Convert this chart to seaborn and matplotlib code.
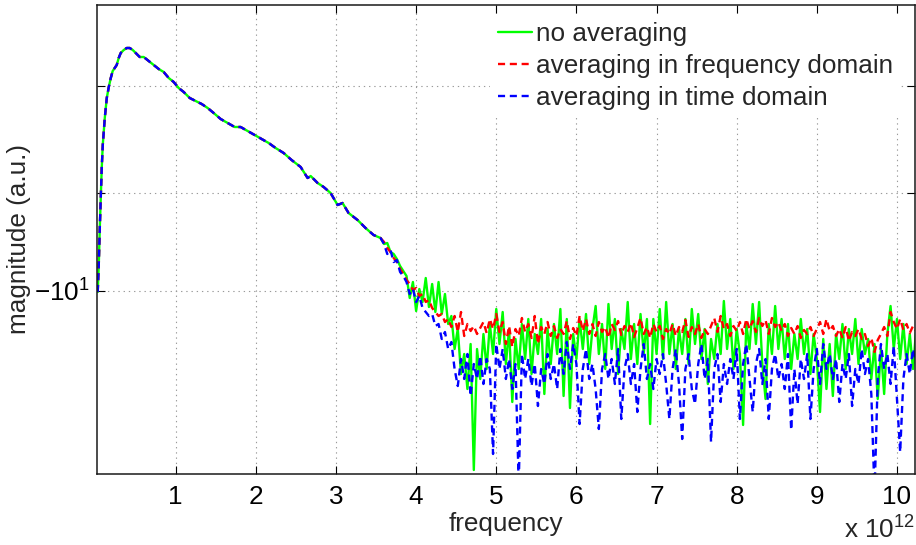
import numpy as np
import matplotlib
matplotlib.use("Agg")
import matplotlib.pyplot as plt
import seaborn as sns

# Frequency axis is expressed in units of 1e12 Hz; magnitude in log-axis units.
# Low-frequency part shared by the three spectra.
freq_common = [0.027, 0.040, 0.052, 0.065, 0.077, 0.090, 0.115, 0.140, 0.165, 0.190,
               0.214, 0.239, 0.264, 0.289, 0.314, 0.352, 0.389, 0.426, 0.464, 0.501,
               0.551, 0.601, 0.663, 0.726, 0.788, 0.850, 0.913, 0.975, 1.037, 1.100,
               1.175, 1.249, 1.324, 1.399, 1.474, 1.561, 1.648, 1.736, 1.810, 1.898,
               1.985, 2.072, 2.160, 2.247, 2.347, 2.446, 2.559, 2.646, 2.684, 2.771,
               2.846, 2.933, 3.020, 3.082, 3.157, 3.269, 3.369, 3.469, 3.556]
mag_common = [1.82, 2.09, 2.44, 2.77, 3.06, 3.29, 3.56, 3.76, 3.87, 3.96,
              4.03, 4.06, 4.09, 4.16, 4.21, 4.24, 4.26, 4.26, 4.24, 4.21,
              4.17, 4.17, 4.13, 4.09, 4.05, 4.02, 3.96, 3.92, 3.86, 3.82,
              3.76, 3.73, 3.70, 3.66, 3.61, 3.55, 3.51, 3.47, 3.47, 3.43,
              3.39, 3.35, 3.31, 3.26, 3.21, 3.14, 3.07, 2.96, 2.98, 2.91,
              2.87, 2.81, 2.69, 2.71, 2.61, 2.54, 2.46, 2.39, 2.36]

# High-frequency bins (3.60 ... 10.24, step 0.04) where the spectra separate.
freq_tail = np.round(np.arange(3.60, 10.2401, 0.04), 2)

green_tail = [2.30, 2.31, 2.22, 2.20, 2.15, 2.08, 2.03, 1.98, 1.76, 1.92,
              1.63, 1.85, 1.72, 1.96, 1.67, 1.90, 1.62, 1.92, 1.60, 1.80,
              1.50, 1.58, 1.25, 1.45, 1.00, 1.20, 0.85, 1.30, 0.04, 1.25,
              0.95, 1.40, 1.05, 1.50, 1.20, 1.65, 1.30, 1.62, 1.10, 1.45,
              0.72, 1.35, 1.05, 1.50, 1.15, 1.55, 1.00, 1.40, 1.20, 1.55,
              0.80, 1.45, 1.10, 1.50, 1.20, 1.65, 0.78, 1.55, 0.66, 1.40,
              1.15, 1.55, 1.25, 1.60, 1.10, 1.45, 1.68, 1.20, 1.50, 1.05,
              1.70, 1.25, 1.55, 1.00, 1.45, 1.25, 1.72, 1.15, 1.50, 1.10,
              1.60, 1.20, 1.55, 0.50, 1.55, 1.20, 1.65, 1.15, 1.72, 1.20,
              1.50, 1.05, 1.45, 1.20, 1.55, 1.10, 1.65, 1.30, 1.60, 1.15,
              1.45, 0.90, 1.35, 1.15, 1.50, 1.20, 1.73, 1.25, 1.55, 1.05,
              1.45, 1.20, 0.49, 1.50, 1.25, 1.70, 1.30, 1.72, 1.10, 0.75,
              1.50, 1.20, 1.68, 1.25, 1.55, 1.15, 1.50, 1.05, 1.40, 1.15,
              1.55, 1.20, 1.45, 1.00, 1.40, 1.15, 0.62, 1.35, 0.85, 1.30,
              0.78, 1.40, 1.15, 1.50, 1.05, 1.45, 1.20, 1.55, 1.10, 1.45,
              1.20, 1.35, 0.95, 1.30, 0.75, 1.25, 0.80, 1.40, 1.68, 1.25,
              1.55, 1.15, 1.50, 1.10, 1.40, 1.05, 1.45]

red_tail = [2.32, 2.26, 2.22, 2.16, 2.12, 2.05, 2.00, 1.94, 1.90, 1.84,
            1.86, 1.78, 1.80, 1.72, 1.74, 1.66, 1.62, 1.58, 1.60, 1.52,
            1.55, 1.47, 1.58, 1.42, 1.62, 1.38, 1.50, 1.43, 1.48, 1.40,
            1.46, 1.52, 1.41, 1.55, 1.45, 1.60, 1.42, 1.52, 1.30, 1.48,
            1.27, 1.45, 1.38, 1.56, 1.42, 1.50, 1.36, 1.58, 1.30, 1.47,
            1.40, 1.52, 1.38, 1.48, 1.36, 1.45, 1.40, 1.53, 1.35, 1.46,
            1.38, 1.58, 1.43, 1.55, 1.40, 1.50, 1.38, 1.52, 1.42, 1.47,
            1.36, 1.50, 1.44, 1.53, 1.39, 1.48, 1.42, 1.51, 1.37, 1.46,
            1.56, 1.40, 1.47, 1.36, 1.50, 1.42, 1.48, 1.35, 1.45, 1.40,
            1.50, 1.38, 1.47, 1.42, 1.54, 1.37, 1.47, 1.40, 1.50, 1.36,
            1.45, 1.40, 1.48, 1.56, 1.42, 1.58, 1.45, 1.50, 1.38, 1.48,
            1.43, 1.52, 1.40, 1.55, 1.45, 1.53, 1.42, 1.56, 1.48, 1.54,
            1.40, 1.56, 1.47, 1.52, 1.43, 1.50, 1.38, 1.46, 1.40, 1.48,
            1.36, 1.44, 1.40, 1.47, 1.38, 1.45, 1.52, 1.40, 1.55, 1.43,
            1.48, 1.38, 1.45, 1.36, 1.47, 1.33, 1.42, 1.38, 1.45, 1.35,
            1.40, 1.28, 1.36, 1.22, 1.34, 1.40, 1.47, 1.38, 1.62, 1.52,
            1.45, 1.55, 1.44, 1.50, 1.41, 1.48, 1.43]

blue_tail = [2.30, 2.20, 2.24, 2.12, 2.14, 2.02, 1.98, 1.92, 1.80, 1.85,
             1.72, 1.78, 1.66, 1.62, 1.58, 1.60, 1.48, 1.50, 1.35, 1.42,
             1.25, 1.32, 1.05, 0.88, 1.15, 0.95, 1.20, 0.78, 1.10, 0.95,
             1.18, 0.90, 1.15, 1.05, 0.20, 1.30, 1.05, 1.25, 0.95, 1.15,
             0.85, 1.10, -0.10, 1.20, 0.95, 1.15, 0.88, 1.10, 0.68, 1.05,
             0.90, 1.20, 0.95, 1.10, 0.85, 1.25, 1.00, 1.32, 1.05, 1.30,
             1.10, 0.50, 1.05, 1.25, 0.95, 1.10, 0.85, 0.45, 1.05, 1.20,
             0.95, 1.15, 0.90, 1.25, 0.55, 1.05, 1.20, 0.90, 1.10, 0.62,
             1.05, 1.30, 0.95, 1.10, 0.85, 1.15, 1.00, 1.20, 0.90, 0.55,
             1.05, 1.25, 0.90, 0.35, 1.05, 1.20, 0.85, 0.70, 1.10, 1.30,
             0.95, 1.15, 0.32, 1.05, 1.20, 0.72, 1.10, 0.90, 1.15, 0.95,
             1.25, 0.55, 1.10, 1.30, 0.95, 0.62, 1.10, 1.25, 0.90, 1.15,
             0.55, 1.05, 1.20, 0.95, 1.10, 0.85, 1.20, 0.44, 1.05, 0.70,
             1.15, 0.95, 1.20, 0.55, 1.05, 1.25, 0.90, 1.30, 1.05, 1.20,
             0.95, 1.15, 0.72, 1.10, 0.95, 1.20, 0.68, 1.05, 0.90, 1.25,
             1.00, 1.15, 0.80, -0.20, 0.95, 1.30, 1.05, 1.20, 0.90, 1.28,
             0.75, 0.22, 0.95, 1.20, 1.00, 1.25, 1.10]

series_labels = ["no averaging",
                 "averaging in frequency domain",
                 "averaging in time domain"]
series_colors = ["#00ff00", "#ff0000", "#0000ff"]
series_styles = ["-", (0, (3, 2)), (0, (3, 2))]

x_ticks = [1, 2, 3, 4, 5, 6, 7, 8, 9, 10]
y_ticks = [1.83, 2.81, 3.88]
y_tick_labels = [r"$-10^{1}$", "", ""]

sns.set_style("ticks")
plt.rcParams["font.family"] = ["Liberation Sans", "DejaVu Sans"]
plt.rcParams["mathtext.fontset"] = "custom"
plt.rcParams["mathtext.rm"] = "Liberation Sans"
plt.rcParams["mathtext.it"] = "Liberation Sans:italic"
plt.rcParams["mathtext.bf"] = "Liberation Sans:bold"

FS = 18.8
fig = plt.figure(figsize=(9.16, 5.45), dpi=100)
ax = fig.add_axes([97 / 916, 71 / 545, 818 / 916, 469 / 545])

tails = [green_tail, red_tail, blue_tail]
for label, tail, color, ls in zip(series_labels, tails, series_colors, series_styles):
    f = np.concatenate([freq_common, freq_tail])
    v = np.concatenate([mag_common, tail])
    sns.lineplot(x=f, y=v, ax=ax, color=color, linestyle=ls, linewidth=1.7,
                 label=label, sort=False, estimator=None)

ax.set_xlim(0.018, 10.225)
ax.set_ylim(0, 4.69)
ax.set_xticks(x_ticks)
ax.set_xticklabels([str(t) for t in x_ticks])
ax.set_yticks(y_ticks)
ax.set_yticklabels(y_tick_labels)

ax.grid(True, linestyle=(0, (1.2, 3.5)), color="#9a9a9a", linewidth=0.8)
ax.tick_params(direction="in", length=6, width=0.8, top=True, right=True,
               labelsize=FS, colors="black")
ax.tick_params(axis="x", pad=8)
ax.tick_params(axis="y", pad=5)
for sp in ax.spines.values():
    sp.set_visible(True)
    sp.set_color("#1a1a1a")
    sp.set_linewidth(1.1)

ax.set_xlabel("frequency", fontsize=FS, labelpad=2)
ax.set_ylabel("magnitude (a.u.)", fontsize=FS)
ax.yaxis.set_label_coords(-0.081, 0.5)
fig.text(0.999, 0.002, r"x 10$^{12}$", ha="right", va="bottom", fontsize=FS)

leg = ax.legend(loc="upper right", bbox_to_anchor=((901 - 97) / 818, (474 - 14) / 469),
                frameon=True, fancybox=False, edgecolor="none", facecolor="white",
                framealpha=1, fontsize=FS, handlelength=1.3, handletextpad=0.15,
                labelspacing=0.31, borderpad=0.3, borderaxespad=0)

fig.savefig("out.png", dpi=100)
